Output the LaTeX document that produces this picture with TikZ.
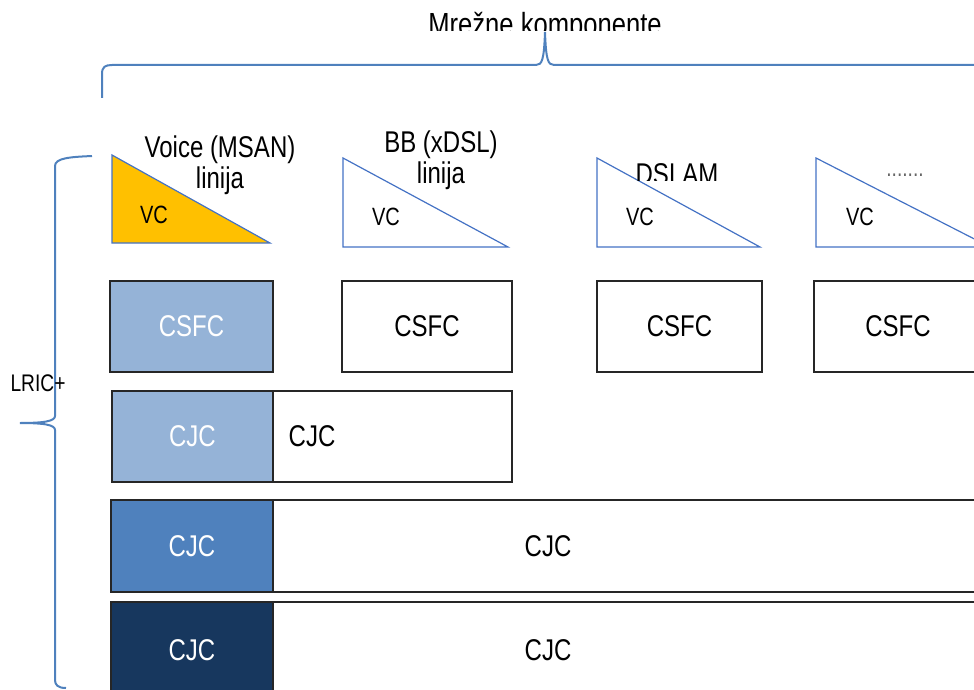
\documentclass[tikz,border=0pt]{standalone}
\usepackage{fontspec}
\setmainfont{Liberation Sans}[FakeStretch=0.8]
\usetikzlibrary{positioning}
\definecolor{braceblue}{HTML}{4F81BD}
\definecolor{triblue}{HTML}{4472C4}
\definecolor{voiceyellow}{HTML}{FFC000}
\definecolor{costlight}{HTML}{95B3D7}
\definecolor{costmid}{HTML}{4F81BD}
\definecolor{costdark}{HTML}{17375E}
\tikzstyle{brace} = [draw=braceblue, line width=1pt]
\tikzstyle{tri} = [draw=triblue, line width=0.6pt]
\tikzstyle{box} = [draw=black!85, line width=0.8pt]
\tikzset{
  costtxt/.style={font=\fontsize{15}{18}\selectfont},
  vctxt/.style={font=\fontsize{12.5}{15}\selectfont},
  headtxt/.style={font=\fontsize{15}{18}\selectfont, align=center},
}

\begin{document}
\begin{tikzpicture}[x=0.5pt,y=-0.5pt]
  \useasboundingbox (0,0) rectangle (974,690);
  \clip (0,0) rectangle (974,690);
  % top brace and title
  \begin{scope}
    \clip (0,0) rectangle (974,31);
    \node[headtxt, font=\fontsize{16}{19}\selectfont] (mreza) at (545,27) {Mrežne komponente};
  \end{scope}
  \draw[brace] (102,98) -- (102,74) .. controls (102,67) and (105,65) .. (112,65)
    -- (536,65) .. controls (542,65) and (544,60) .. (545,32)
    .. controls (546,60) and (548,65) .. (554,65) -- (980,65);
  % left brace
  \draw[brace] (92,156) .. controls (70,157) and (55,158) .. (55,166) -- (55,416)
    .. controls (55,421) and (45,423) .. (20,423)
    .. controls (45,423) and (55,425) .. (55,430) -- (55,680)
    .. controls (55,685) and (58,688) .. (66,688);
  \node[font=\fontsize{12}{14}\selectfont] (lric) at (38,383) {LRIC+};
  % network component triangles
  \filldraw[tri, fill=voiceyellow] (112,155) -- (112,243) -- (270,243) -- cycle;
  \draw[tri] (343,158) -- (343,247) -- (508,247) -- cycle;
  \draw[tri] (597,158) -- (597,247) -- (760,247) -- cycle;
  \draw[tri] (816,158) -- (816,247) -- (990,247) -- cycle;
  \node[headtxt] (voice) at (220,150) {Voice (MSAN)};
  \node[headtxt] (voicelin) at (220,181) {linija};
  \node[headtxt] (bb) at (441,145) {BB (xDSL)};
  \node[headtxt] (bblin) at (441,176) {linija};
  \begin{scope}
    \clip (580,150) rectangle (760,180);
    \node[headtxt] (dslam) at (677,174) {DSLAM};
  \end{scope}
  \node[headtxt, text=black!60, font=\fontsize{12}{14}\selectfont] (dots) at (905,175) {.......};
  \node[vctxt] (vc1) at (154,215) {VC};
  \node[vctxt] (vc2) at (386,217) {VC};
  \node[vctxt] (vc3) at (640,217) {VC};
  \node[vctxt] (vc4) at (860,217) {VC};
  % CSFC row
  \draw[box, fill=costlight] (110,281) rectangle (273,372);
  \draw[box] (342,281) rectangle (512,372);
  \draw[box] (597,281) rectangle (762,372);
  \draw[box] (814,281) rectangle (990,372);
  \node[costtxt, text=white] (csfc1) at (191.5,326.5) {CSFC};
  \node[costtxt] (csfc2) at (427,326.5) {CSFC};
  \node[costtxt] (csfc3) at (679.5,326.5) {CSFC};
  \node[costtxt] (csfc4) at (898,326.5) {CSFC};
  % CJC rows
  \draw[box] (112,391) rectangle (512,482);
  \draw[box, fill=costlight] (112,391) rectangle (273,482);
  \node[costtxt, text=white] (cjc1) at (192.5,436.5) {CJC};
  \node[costtxt] (cjc1r) at (312,436.5) {CJC};
  \draw[box] (111,500) rectangle (990,592);
  \draw[box, fill=costmid] (111,500) rectangle (273,592);
  \node[costtxt, text=white] (cjc2) at (192,546) {CJC};
  \node[costtxt] (cjc2r) at (548,546) {CJC};
  \draw[box] (111,602) rectangle (990,700);
  \draw[box, fill=costdark] (111,602) rectangle (273,700);
  \node[costtxt, text=white] (cjc3) at (192,650) {CJC};
  \node[costtxt] (cjc3r) at (548,650) {CJC};
\end{tikzpicture}
\end{document}
